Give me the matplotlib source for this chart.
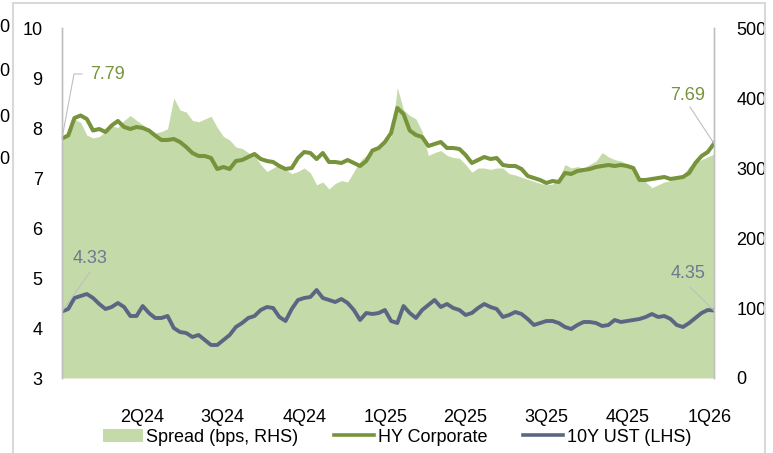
import matplotlib
matplotlib.use("Agg")
import matplotlib.pyplot as plt
import matplotlib.dates as mdates
from matplotlib.lines import Line2D
from matplotlib.patches import Patch
import pandas as pd

plt.rcParams['font.family'] = ['Liberation Sans', 'DejaVu Sans']

# Weekly observations, Jan 2024 - Jan 2026
dates = pd.date_range("2024-01-02", periods=106, freq="7D")

hy_corporate = [
    7.79, 7.85, 8.20, 8.25, 8.18, 7.95, 7.98, 7.92, 8.05, 8.14,
    8.02, 7.98, 8.02, 8.00, 7.95, 7.85, 7.76, 7.76, 7.78, 7.72,
    7.62, 7.50, 7.44, 7.44, 7.40, 7.18, 7.22, 7.18, 7.34, 7.36,
    7.42, 7.48, 7.38, 7.34, 7.32, 7.24, 7.18, 7.20, 7.40, 7.52,
    7.50, 7.38, 7.50, 7.32, 7.32, 7.30, 7.36, 7.30, 7.24, 7.34,
    7.55, 7.60, 7.72, 7.90, 8.40, 8.28, 7.95, 7.86, 7.82, 7.64,
    7.68, 7.72, 7.60, 7.60, 7.58, 7.46, 7.30, 7.36, 7.42, 7.38,
    7.40, 7.26, 7.24, 7.24, 7.18, 7.04, 7.00, 6.96, 6.90, 6.94,
    6.92, 7.10, 7.08, 7.14, 7.16, 7.18, 7.22, 7.24, 7.26, 7.24,
    7.26, 7.24, 7.20, 6.96, 6.96, 6.98, 7.00, 7.02, 6.98, 7.00,
    7.02, 7.10, 7.30, 7.44, 7.52, 7.69,
]

spread_bps = [
    345, 352, 370, 365, 347, 343, 345, 352, 360, 358,
    368, 375, 368, 362, 355, 350, 352, 356, 400, 383,
    380, 368, 366, 370, 374, 358, 345, 340, 330, 328,
    322, 318, 305, 295, 300, 305, 298, 292, 295, 300,
    293, 276, 280, 270, 278, 282, 280, 295, 310, 318,
    322, 330, 336, 345, 415, 383, 375, 370, 352, 318,
    322, 325, 318, 315, 314, 305, 294, 300, 300, 298,
    300, 300, 292, 290, 287, 284, 281, 278, 276, 277,
    285, 305, 300, 302, 300, 305, 310, 322, 316, 312,
    310, 306, 300, 284, 280, 272, 276, 280, 282, 285,
    290, 302, 308, 312, 316, 320,
]

ust_10y = [
    4.33, 4.38, 4.60, 4.64, 4.68, 4.60, 4.48, 4.38, 4.42, 4.50,
    4.42, 4.24, 4.24, 4.44, 4.30, 4.20, 4.20, 4.24, 4.00, 3.92,
    3.90, 3.82, 3.86, 3.76, 3.66, 3.66, 3.76, 3.86, 4.02, 4.10,
    4.20, 4.24, 4.36, 4.42, 4.40, 4.22, 4.14, 4.38, 4.56, 4.60,
    4.62, 4.76, 4.60, 4.56, 4.52, 4.58, 4.50, 4.36, 4.16, 4.30,
    4.28, 4.30, 4.36, 4.14, 4.10, 4.44, 4.30, 4.20, 4.36, 4.46,
    4.56, 4.42, 4.48, 4.40, 4.36, 4.26, 4.30, 4.40, 4.48, 4.42,
    4.38, 4.22, 4.26, 4.32, 4.28, 4.18, 4.06, 4.10, 4.14, 4.14,
    4.10, 4.02, 3.98, 4.06, 4.12, 4.12, 4.10, 4.04, 4.06, 4.16,
    4.12, 4.14, 4.16, 4.18, 4.22, 4.28, 4.22, 4.24, 4.18, 4.06,
    4.02, 4.10, 4.20, 4.30, 4.36, 4.35,
]

quarter_ticks = ["2024-04-01", "2024-07-01", "2024-10-01", "2025-01-01",
                 "2025-04-01", "2025-07-01", "2025-10-01", "2026-01-01"]
quarter_labels = ["2Q24", "3Q24", "4Q24", "1Q25", "2Q25", "3Q25", "4Q25", "1Q26"]

GREEN = "#77933C"
FILL = "#C4DBA9"
SLATE = "#5B6782"
SLATE_TXT = "#6C7A91"
LEADER = "#BFBFBF"
FS = 13

fig = plt.figure(figsize=(7.73, 4.53), dpi=100)
ax = fig.add_axes([62 / 773, 1 - 378 / 453, (714 - 62) / 773, 350 / 453])
ax2 = ax.twinx()

# spread area on the right axis, kept behind the yield lines
ax2.fill_between(dates, 0, spread_bps, color=FILL, linewidth=0)
ax2.set_ylim(0, 500)
ax2.set_yticks([0, 100, 200, 300, 400, 500])

ax.plot(dates, hy_corporate, color=GREEN, lw=2.9, solid_joinstyle="round")
ax.plot(dates, ust_10y, color=SLATE, lw=2.8, solid_joinstyle="round")
ax.set_ylim(3, 10)
ax.set_yticks(range(3, 11))

ax.set_zorder(ax2.get_zorder() + 1)
ax.patch.set_visible(False)

ax.set_xlim(dates[0], dates[-1])
ax.set_xticks(pd.to_datetime(quarter_ticks))
ax.set_xticklabels(quarter_labels)

for a in (ax, ax2):
    for s in ("top", "bottom"):
        a.spines[s].set_visible(False)
    for s in ("left", "right"):
        a.spines[s].set_color(LEADER)
        a.spines[s].set_linewidth(1.0)
ax.tick_params(axis="y", length=0, pad=14, labelsize=FS)
ax.tick_params(axis="x", length=0, pad=22, labelsize=FS)
ax2.tick_params(axis="y", length=0, pad=16, labelsize=FS)

# value call-outs at the first and last observation
d0 = mdates.date2num(dates[0])
d1 = mdates.date2num(dates[-1])
day = (d1 - d0) / 652.0  # days per pixel across the plot width
ax.plot([d0, d0 + 12 * day, d0 + 20 * day], [hy_corporate[0], 9.08, 9.08],
        color=LEADER, lw=0.8, clip_on=False)
ax.text(d0 + 28 * day, 9.08, f"{hy_corporate[0]:.2f}", color=GREEN, fontsize=FS,
        ha="left", va="center")
ax.plot([d0, d0 + 28 * day], [ust_10y[0], 5.12], color=LEADER, lw=0.8)
ax.text(d0 + 28 * day, 5.4, f"{ust_10y[0]:.2f}", color=SLATE_TXT, fontsize=FS,
        ha="center", va="center")
ax.plot([d1, d1 - 24 * day], [hy_corporate[-1], 8.42], color=LEADER, lw=0.8)
ax.text(d1 - 26 * day, 8.66, f"{hy_corporate[-1]:.2f}", color=GREEN, fontsize=FS,
        ha="center", va="center")
ax.plot([d1, d1 - 24 * day], [ust_10y[-1], 4.82], color=LEADER, lw=0.8)
ax.text(d1 - 26 * day, 5.1, f"{ust_10y[-1]:.2f}", color=SLATE_TXT, fontsize=FS,
        ha="center", va="center")

handles = [Patch(facecolor=FILL, edgecolor="none"),
           Line2D([], [], color=GREEN, lw=2.6),
           Line2D([], [], color=SLATE, lw=2.6)]
labels = ["Spread (bps, RHS)", "HY Corporate", "10Y UST (LHS)"]
fig.legend(handles, labels, loc="center", bbox_to_anchor=(397 / 773, 1 - 437 / 453),
           ncol=3, frameon=False, fontsize=FS, handlelength=2.2, handleheight=0.7,
           handletextpad=0.2, columnspacing=2.0, borderpad=0)

# panel frame
fig.add_artist(Line2D([13 / 773, 765 / 773], [1 - 3 / 453, 1 - 3 / 453],
                      color="#D9D9D9", lw=1.5))
fig.add_artist(Line2D([13 / 773, 13 / 773], [0, 1 - 3 / 453], color="#D9D9D9", lw=1.5))
fig.add_artist(Line2D([765 / 773, 765 / 773], [0, 1 - 3 / 453], color="#D9D9D9", lw=1.5))
for yy in (28, 72, 117, 160):
    fig.text(9 / 773, 1 - yy / 453, "0", fontsize=FS, ha="right", va="center")

fig.savefig("out.png", dpi=100)
